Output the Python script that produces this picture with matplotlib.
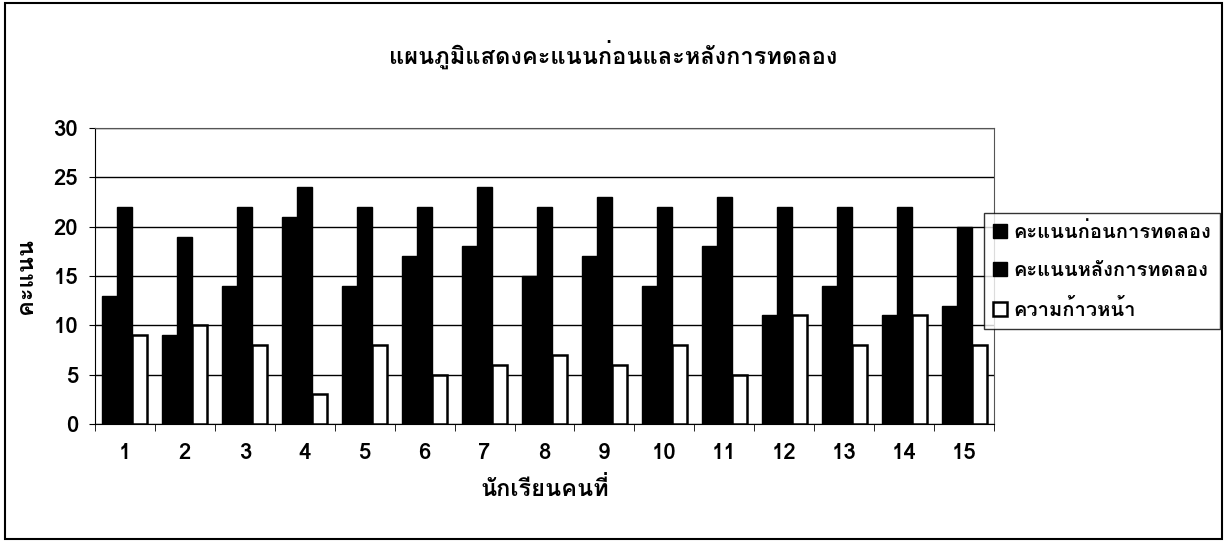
import numpy as np
import matplotlib
matplotlib.use("Agg")
import matplotlib.pyplot as plt
from matplotlib import font_manager
from matplotlib.ft2font import FT2Font
from matplotlib.patches import Rectangle

students = [str(i) for i in range(1, 16)]
pre_scores = [13, 9, 14, 21, 14, 17, 18, 15, 17, 14, 18, 11, 14, 11, 12]
post_scores = [22, 19, 22, 24, 22, 22, 24, 22, 23, 22, 23, 22, 22, 22, 20]
progress = [9, 10, 8, 3, 8, 5, 6, 7, 6, 8, 5, 11, 8, 11, 8]

series_names = ["คะแนนก่อนการทดลอง", "คะแนนหลังการทดลอง", "ความก้าวหน้า"]
title = "แผนภูมิแสดงคะแนนก่อนและหลังการทดลอง"
xlabel = "นักเรียนคนที่"
ylabel = "คะแนน"

# find a font that has Thai glyphs
thai_fonts = []
for f in font_manager.fontManager.ttflist:
    try:
        if 0x0E01 in FT2Font(f.fname).get_charmap():
            if f.name not in thai_fonts:
                thai_fonts.append(f.name)
    except Exception:
        pass
installed = {f.name for f in font_manager.fontManager.ttflist}
families = []
if "Liberation Sans Narrow" in installed:
    families.append("Liberation Sans Narrow")
families += thai_fonts + ["DejaVu Sans"]
plt.rcParams["font.family"] = families

fig = plt.figure(figsize=(12.27, 5.42), dpi=100)
ax = fig.add_axes([0.0774, 0.2177, 0.7327, 0.5461])

x = np.arange(len(students))
w = 0.25
ax.bar(x - w, pre_scores, w, color="black", edgecolor="black", lw=1, zorder=3, label=series_names[0])
ax.bar(x, post_scores, w, color="black", edgecolor="black", lw=1, zorder=3, label=series_names[1])
ax.bar(x + w, progress, w, color="white", edgecolor="black", lw=1.8, zorder=3, label=series_names[2])

ax.set_xlim(-0.5, len(students) - 0.5)
ax.set_ylim(0, 30)
ax.set_yticks(range(0, 31, 5))
ax.set_xticks(x)
ax.set_xticklabels(students, fontsize=16, fontweight="bold")
ax.set_xticks(np.arange(-0.5, len(students)), minor=True)
ax.tick_params(axis="x", which="major", length=0, pad=14)
ax.tick_params(axis="x", which="minor", length=5, direction="out")
ax.tick_params(axis="y", labelsize=16, length=4, direction="out", pad=8)
for lbl in ax.get_yticklabels():
    lbl.set_fontweight("bold")
ax.yaxis.grid(True, color="black", lw=1)
for s in ["top", "right"]:
    ax.spines[s].set_color("#555555")
for s in ["left", "bottom"]:
    ax.spines[s].set_color("black")

ax.set_xlabel(xlabel, fontsize=17, fontweight="bold", labelpad=10)
ax.set_ylabel(ylabel, fontsize=17, fontweight="bold", labelpad=12)
fig.text(0.5, 0.90, title, ha="center", va="center", fontsize=17, fontweight="bold")

leg = ax.legend(loc="center left", bbox_to_anchor=(984 / 1227, 271 / 542),
                bbox_transform=fig.transFigure, frameon=True, fancybox=False,
                prop={"size": 14.5, "weight": "bold"}, handlelength=0.7, handleheight=0.7,
                handletextpad=0.3, borderpad=0.45, labelspacing=0.95, borderaxespad=0)
leg.get_frame().set_edgecolor("black")
leg.get_frame().set_linewidth(1)

fig.add_artist(Rectangle((0.004, 0.006), 0.992, 0.988, transform=fig.transFigure,
                         fill=False, edgecolor="black", lw=1.5))

fig.savefig("out.png", dpi=100)
